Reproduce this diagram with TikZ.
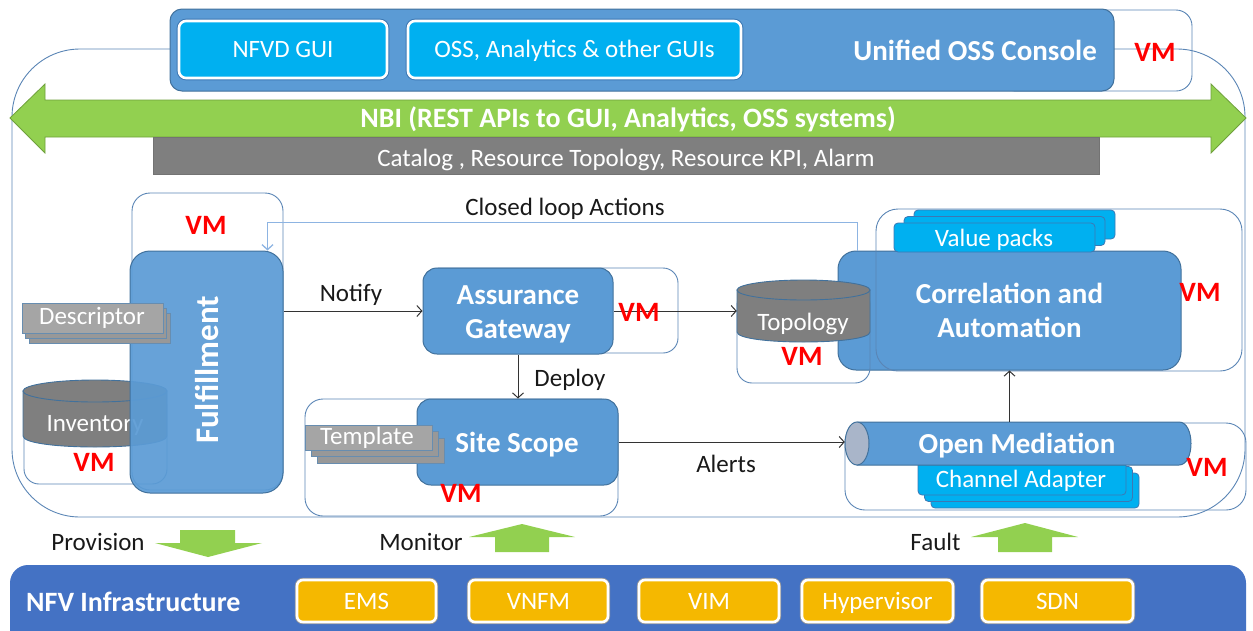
\documentclass[tikz,border=0pt]{standalone}
\usepackage{fontspec}
\setmainfont{Carlito}
\usetikzlibrary{arrows.meta}

\definecolor{paneblue}{HTML}{5B9BD5}
\definecolor{paneedge}{HTML}{41719C}
\definecolor{guicyan}{HTML}{00B0F0}
\definecolor{guiedge}{HTML}{3C78B4}
\definecolor{nbigreen}{HTML}{92D050}
\definecolor{nbiedge}{HTML}{6FA03C}
\definecolor{bargray}{HTML}{7F7F7F}
\definecolor{cylgray}{HTML}{7F7F7F}
\definecolor{sheetgray}{HTML}{A5A5A5}
\definecolor{sheetback}{HTML}{989898}
\definecolor{vmline}{HTML}{5A85B5}
\definecolor{vmred}{HTML}{FF0000}
\definecolor{loopblue}{HTML}{8DB4E2}
\definecolor{infrablue}{HTML}{4472C4}
\definecolor{amber}{HTML}{F5B800}
\definecolor{capgray}{HTML}{A9B5C9}

\newcommand\lblfont{\fontsize{25}{30}\selectfont}
\newcommand\ttlfont{\bfseries\fontsize{29}{34}\selectfont}
\newcommand\vmfont{\bfseries\fontsize{28}{30}\selectfont}

% database drum: left x, right x, top-ellipse centre y, bottom-ellipse centre y, y radius
\newcommand\dbcyl[5]{%
  \path[cylbody] (#1,#3) -- (#1,#4)
    .. controls (#1,{#4+1.333*#5}) and (#2,{#4+1.333*#5}) .. (#2,#4)
    -- (#2,#3) -- cycle;
  \path[cylbody] ({(#1+#2)/2},#3) ellipse [x radius={(#2-#1)/2}, y radius=#5];}

\tikzset{
  capfit/.style={text height=#1, text depth=0pt},
  vmbox/.style={draw=vmline, line width=0.9pt, rounded corners=16pt, inner sep=0pt},
  bluebox/.style={fill=paneblue, draw=paneedge, line width=1pt, rounded corners=14pt,
    inner sep=0pt, text=white, align=center, font=\ttlfont},
  vmtag/.style={text=vmred, font=\vmfont, inner sep=0pt},
  lbl/.style={font=\lblfont, inner sep=0pt, text=black!90, capfit=16pt},
  conn/.style={draw=black!80, line width=1pt, -{Straight Barb[length=5pt,width=11pt]}},
  loopconn/.style={draw=loopblue, line width=1.3pt, -{Straight Barb[length=5pt,width=11pt]}},
  sheet/.style={fill=sheetgray, draw=paneedge!80, line width=0.8pt, inner sep=0pt,
    text=white, font=\lblfont},
  backsheet/.style={fill=sheetback, draw=paneedge!80, line width=0.8pt, inner sep=0pt},
  cyansheet/.style={fill=guicyan, draw=guiedge, line width=0.8pt, rounded corners=4pt,
    inner sep=0pt, text=white, font=\lblfont},
  guibtn/.style={fill=guicyan, draw=white, line width=2.6pt, rounded corners=7pt,
    preaction={draw=guiedge, line width=4.6pt}, text=white, font=\lblfont, inner sep=0pt,
    capfit=16pt},
  infrabtn/.style={fill=amber, draw=white, line width=2.6pt, rounded corners=6pt,
    preaction={draw=black!40, line width=4.4pt}, text=white, font=\lblfont, inner sep=0pt,
    minimum height=42pt, capfit=16pt},
  wtext/.style={text=white, inner sep=0pt},
  blockarrow/.style={fill=nbigreen, draw=nbiedge, line width=0.8pt},
  bigarrow/.style={fill=nbigreen, draw=none},
  cylbody/.style={fill=cylgray, draw=paneedge, line width=0.9pt},
}

\begin{document}
\begin{tikzpicture}[x=1pt, y=-1pt]
\useasboundingbox (0,0) rectangle (1253,630);

% ---------- console VM frame and system frame ----------
\node[vmbox, minimum width=192pt, minimum height=81pt] (consolevm) at (1096,50.5) {};
\draw[vmline, line width=0.9pt, rounded corners=68pt] (12,49) rectangle (1245,517);

% ---------- Unified OSS Console ----------
\node[fill=paneblue, draw=paneedge, line width=1pt, rounded corners=12pt,
      minimum width=944pt, minimum height=82pt, inner sep=0pt] (console) at (642,50) {};
\node[guibtn, minimum width=208pt, minimum height=57pt] (nfvd) at (283,49.5) {NFVD GUI};
\node[guibtn, minimum width=333pt, minimum height=57pt] (ossgui) at (574.5,49.5) {OSS, Analytics \& other GUIs};
\node[wtext, font=\ttlfont, anchor=east] (consoletitle) at (1097,50) {Unified OSS Console};

% ---------- NBI ----------
\path[blockarrow] (10,118) -- (45,84) -- (45,100) -- (1211,100) -- (1211,84) -- (1246,118)
  -- (1211,153) -- (1211,137) -- (45,137) -- (45,153) -- cycle;
\node[wtext, font=\bfseries\fontsize{28}{30}\selectfont] (nbi) at (628,119)
  {NBI (REST APIs to GUI, Analytics, OSS systems)};
\node[fill=bargray, draw=black!55, line width=0.6pt, minimum width=946pt, minimum height=37pt,
      inner sep=0pt] (catalog) at (626,155.5) {};
\node[wtext, font=\lblfont, capfit=16pt] (catalogtext) at (626,158)
  {Catalog , Resource Topology, Resource KPI, Alarm};

% ---------- Inventory / Fulfillment / Descriptor ----------
\node[vmbox, rounded corners=15pt, minimum width=143pt, minimum height=92pt] (invvm) at (95.5,438) {};
\dbcyl{23}{167}{391}{436}{11}
\node[wtext, font=\lblfont, capfit=16pt] (inventory) at (95,423) {Inventory};

\node[vmbox, rounded corners=18pt, minimum width=151pt, minimum height=297pt] (fulvm) at (207.5,341.5) {};
\node[bluebox, rounded corners=20pt, fill opacity=0.93, minimum width=153pt, minimum height=242pt] (ful) at (206.5,372) {};
\node[rotate=90, wtext, font=\bfseries\fontsize{33}{36}\selectfont] (fultext) at (207,370) {Fulfillment};

\node[backsheet, minimum width=141pt, minimum height=30pt] (desc3) at (99.5,328) {};
\node[backsheet, minimum width=141pt, minimum height=30pt] (desc2) at (96,323) {};
\node[sheet, minimum width=141pt, minimum height=30pt] (desc) at (92.5,318) {};
\node[wtext, font=\lblfont, capfit=16pt] (desctext) at (92,316) {Descriptor};

% ---------- Assurance Gateway ----------
\node[vmbox, rounded corners=15pt, minimum width=253pt, minimum height=85pt] (agvm) at (551.5,310.5) {};
\node[bluebox, minimum width=190pt, minimum height=86pt] (ag) at (518,311) {};
\node[wtext, font=\ttlfont, align=center] (agtext) at (518,314.5) {Assurance\\Gateway};

% ---------- Site Scope ----------
\node[vmbox, rounded corners=18pt, minimum width=313pt, minimum height=117pt] (ssvm) at (461.5,457.5) {};
\node[bluebox, minimum width=201pt, minimum height=86pt] (ss) at (517.5,442) {};
\node[wtext, font=\ttlfont, capfit=19pt] (sstext) at (517,443) {Site Scope};
\node[backsheet, minimum width=127pt, minimum height=25pt] (tmpl3) at (380.5,450.5) {};
\node[backsheet, minimum width=127pt, minimum height=25pt] (tmpl2) at (374.5,444) {};
\node[sheet, minimum width=127pt, minimum height=25pt] (tmpl) at (368.5,437.5) {};
\node[wtext, font=\lblfont, capfit=16pt] (tmpltext) at (367,436) {Template};

% ---------- Correlation and Automation ----------
\node[bluebox, rounded corners=18pt, minimum width=343pt, minimum height=119pt] (corr) at (1009.5,310.5)
  {Correlation and\\Automation};
\node[vmbox, rounded corners=22pt, minimum width=366pt, minimum height=162pt] (corrvm) at (1059,290) {};
\node[cyansheet, minimum width=201pt, minimum height=29pt] (vp3) at (1014.5,224.5) {};
\node[cyansheet, minimum width=201pt, minimum height=29pt] (vp2) at (1004.5,231) {};
\node[cyansheet, minimum width=201pt, minimum height=29pt] (vp) at (994.5,237.5) {};
\node[wtext, font=\lblfont, capfit=16pt] (vptext) at (994,238) {Value packs};

% ---------- Topology ----------
\node[vmbox, rounded corners=15pt, minimum width=133pt, minimum height=93pt] (topovm) at (803.5,336.5) {};
\dbcyl{737}{870}{290}{332}{10}
\node[minimum width=133pt, minimum height=62pt, inner sep=0pt] (topo) at (803.5,311) {};
\node[wtext, font=\lblfont, capfit=16pt] (topotext) at (803,322) {Topology};

% ---------- Open Mediation ----------
\node[vmbox, rounded corners=20pt, minimum width=401pt, minimum height=87pt] (omvm) at (1045.5,466.5) {};
\node[cyansheet, minimum width=208pt, minimum height=35pt] (ca3) at (1035,490.5) {};
\node[cyansheet, minimum width=208pt, minimum height=35pt] (ca2) at (1028.5,484) {};
\node[cyansheet, minimum width=208pt, minimum height=35pt] (ca) at (1022,477.5) {};
\node[wtext, font=\lblfont, capfit=16pt] (catext) at (1021,479.5) {Channel Adapter};
\path[fill=paneblue, draw=paneedge, line width=1pt] (857,422) -- (1179,422)
  .. controls (1195,422) and (1195,465) .. (1179,465) -- (857,465) -- cycle;
\path[fill=capgray, draw=paneedge, line width=1pt] (857,443.5) ellipse [x radius=12, y radius=21.5];
\node[minimum width=346pt, minimum height=43pt, inner sep=0pt] (om) at (1018,443.5) {};
\node[wtext, font=\ttlfont, capfit=19pt] (omtext) at (1017,444) {Open Mediation};

% ---------- connectors ----------
\draw[loopconn] ([xshift=20pt]corr.north west) -- ++(0,-28) -| ([xshift=-16pt]ful.north east);
\node[lbl] (looplbl) at (565,207) {Closed loop Actions};
\draw[conn] (ful.east |- ag.west) -- (ag.west);
\node[lbl] (notifylbl) at (351,293) {Notify};
\draw[conn] (ag.east) -- (topo.west);
\draw[conn] (ag.south) -- (ag.south |- ss.north);
\node[lbl] (deploylbl) at (570,378) {Deploy};
\draw[conn] (ss.east) -- (ss.east -| om.west);
\node[lbl] (alertslbl) at (726,464) {Alerts};
\draw[conn] (corr.south |- om.north) -- (corr.south);

% ---------- VM tags ----------
\node[vmtag] (vm1) at (1155,52) {VM};
\node[vmtag] (vm2) at (206,225) {VM};
\node[vmtag] (vm3) at (94,462) {VM};
\node[vmtag] (vm4) at (639,312) {VM};
\node[vmtag] (vm5) at (461,493) {VM};
\node[vmtag] (vm6) at (802,356) {VM};
\node[vmtag] (vm7) at (1200,292) {VM};
\node[vmtag] (vm8) at (1207,467) {VM};

% ---------- interaction with the infrastructure ----------
\path[bigarrow] (180,530) -- (235,530) -- (235,543) -- (262,543) -- (208,557) -- (155,543) -- (180,543) -- cycle;
\node[lbl] (provlbl) at (98,542) {Provision};
\path[bigarrow] (495,552) -- (549,552) -- (549,537) -- (575,537) -- (522,524) -- (469,537) -- (495,537) -- cycle;
\node[lbl] (monlbl) at (421,542) {Monitor};
\path[bigarrow] (998,552) -- (1052,552) -- (1052,537) -- (1078,537) -- (1025,523) -- (971,537) -- (998,537) -- cycle;
\node[lbl] (faultlbl) at (935.5,542) {Fault};

% ---------- NFV Infrastructure ----------
\node[fill=infrablue, rounded corners=18pt, minimum width=1236pt, minimum height=95pt, inner sep=0pt] (infra) at (628,612.5) {};
\node[wtext, font=\bfseries\fontsize{28}{30}\selectfont, anchor=west, capfit=18pt] (infratext) at (26,602) {NFV Infrastructure};
\node[infrabtn, minimum width=139pt] (ems) at (366.5,601) {EMS};
\node[infrabtn, minimum width=139pt] (vnfm) at (538.5,601) {VNFM};
\node[infrabtn, minimum width=140pt] (vim) at (709,601) {VIM};
\node[infrabtn, minimum width=151pt] (hyp) at (877.5,601) {Hypervisor};
\node[infrabtn, minimum width=151pt] (sdn) at (1057.5,601) {SDN};
\end{tikzpicture}
\end{document}
